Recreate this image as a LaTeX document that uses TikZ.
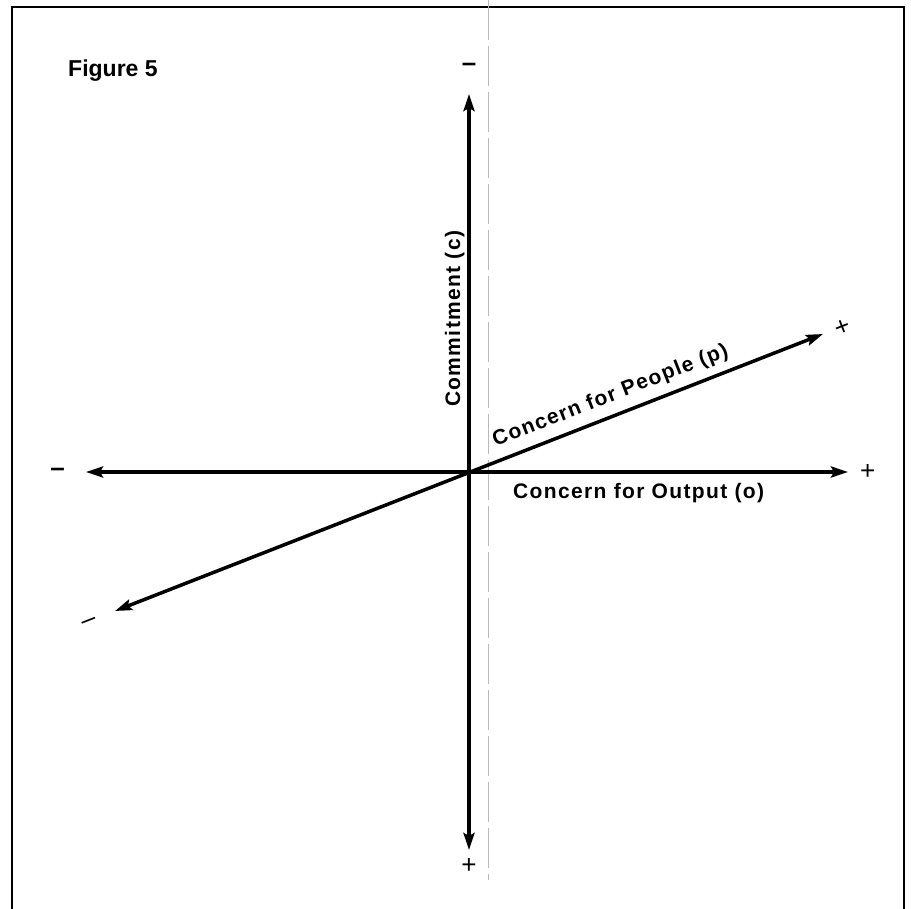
\documentclass[tikz,border=0pt]{standalone}
\usepackage{fontspec}
\setmainfont{Liberation Sans}
\newfontfamily\lblfont[LetterSpace=6.5]{Liberation Sans}
\usetikzlibrary{arrows.meta,positioning}

\begin{document}
\begin{tikzpicture}[x=1pt, y=-1pt,
  lbl/.style={font=\lblfont\fontsize{21}{25}\selectfont\bfseries, inner sep=0pt},
  sgn/.style={font=\fontsize{26}{30}\selectfont, inner sep=0pt},
  axis/.style={line width=3.5pt,
    {Stealth[length=17pt,width=11pt,inset=3pt]}-{Stealth[length=17pt,width=11pt,inset=3pt]}}]
\useasboundingbox (0,0) rectangle (911,909);
% frame and fold line
\draw[line width=1.8pt] (12,909) -- (12,7) -- (904,7) -- (904,909);
\draw[gray!55, line width=0.5pt, dash pattern=on 40pt off 6pt] (488,0) -- (488,880);
% axis ends
\coordinate (O) at (469,472);
\coordinate (xl) at (86,472);
\coordinate (xr) at (848,472);
\coordinate (yt) at (469,94);
\coordinate (yb) at (469,850);
\coordinate (pl) at (115,611);
\coordinate (pr) at (823,334);
\draw[axis] (xl) -- (xr);
\draw[axis] (yt) -- (yb);
\draw[axis] (pl) -- (pr) node[lbl, pos=0.71, sloped, above=8pt] (people) {Concern for People (p)};
% signs
\node[sgn, right=12pt of xr] (xplus) {+};
\node[sgn, font=\fontsize{26}{30}\selectfont\bfseries, left=21pt of xl] (xminus) {--};
\node[sgn, below=8pt of yb] (yplus) {+};
\node[sgn, font=\fontsize{26}{30}\selectfont\bfseries, above=22pt of yt] (yminus) {--};
\node[sgn, rotate=21.4] (pplus) at (843,328) {+};
\node[sgn, rotate=21.4] (pminus) at (90,623) {--};
% labels
\node[lbl, anchor=base west] (output) at (513,498) {Concern for Output (o)};
\node[lbl, rotate=90, anchor=base west] (commit) at (460,407) {Commitment (c)};
\node[font=\fontsize{23}{27}\selectfont\bfseries, anchor=base west, inner sep=0pt] (fig) at (68,77) {Figure 5};
\end{tikzpicture}
\end{document}
